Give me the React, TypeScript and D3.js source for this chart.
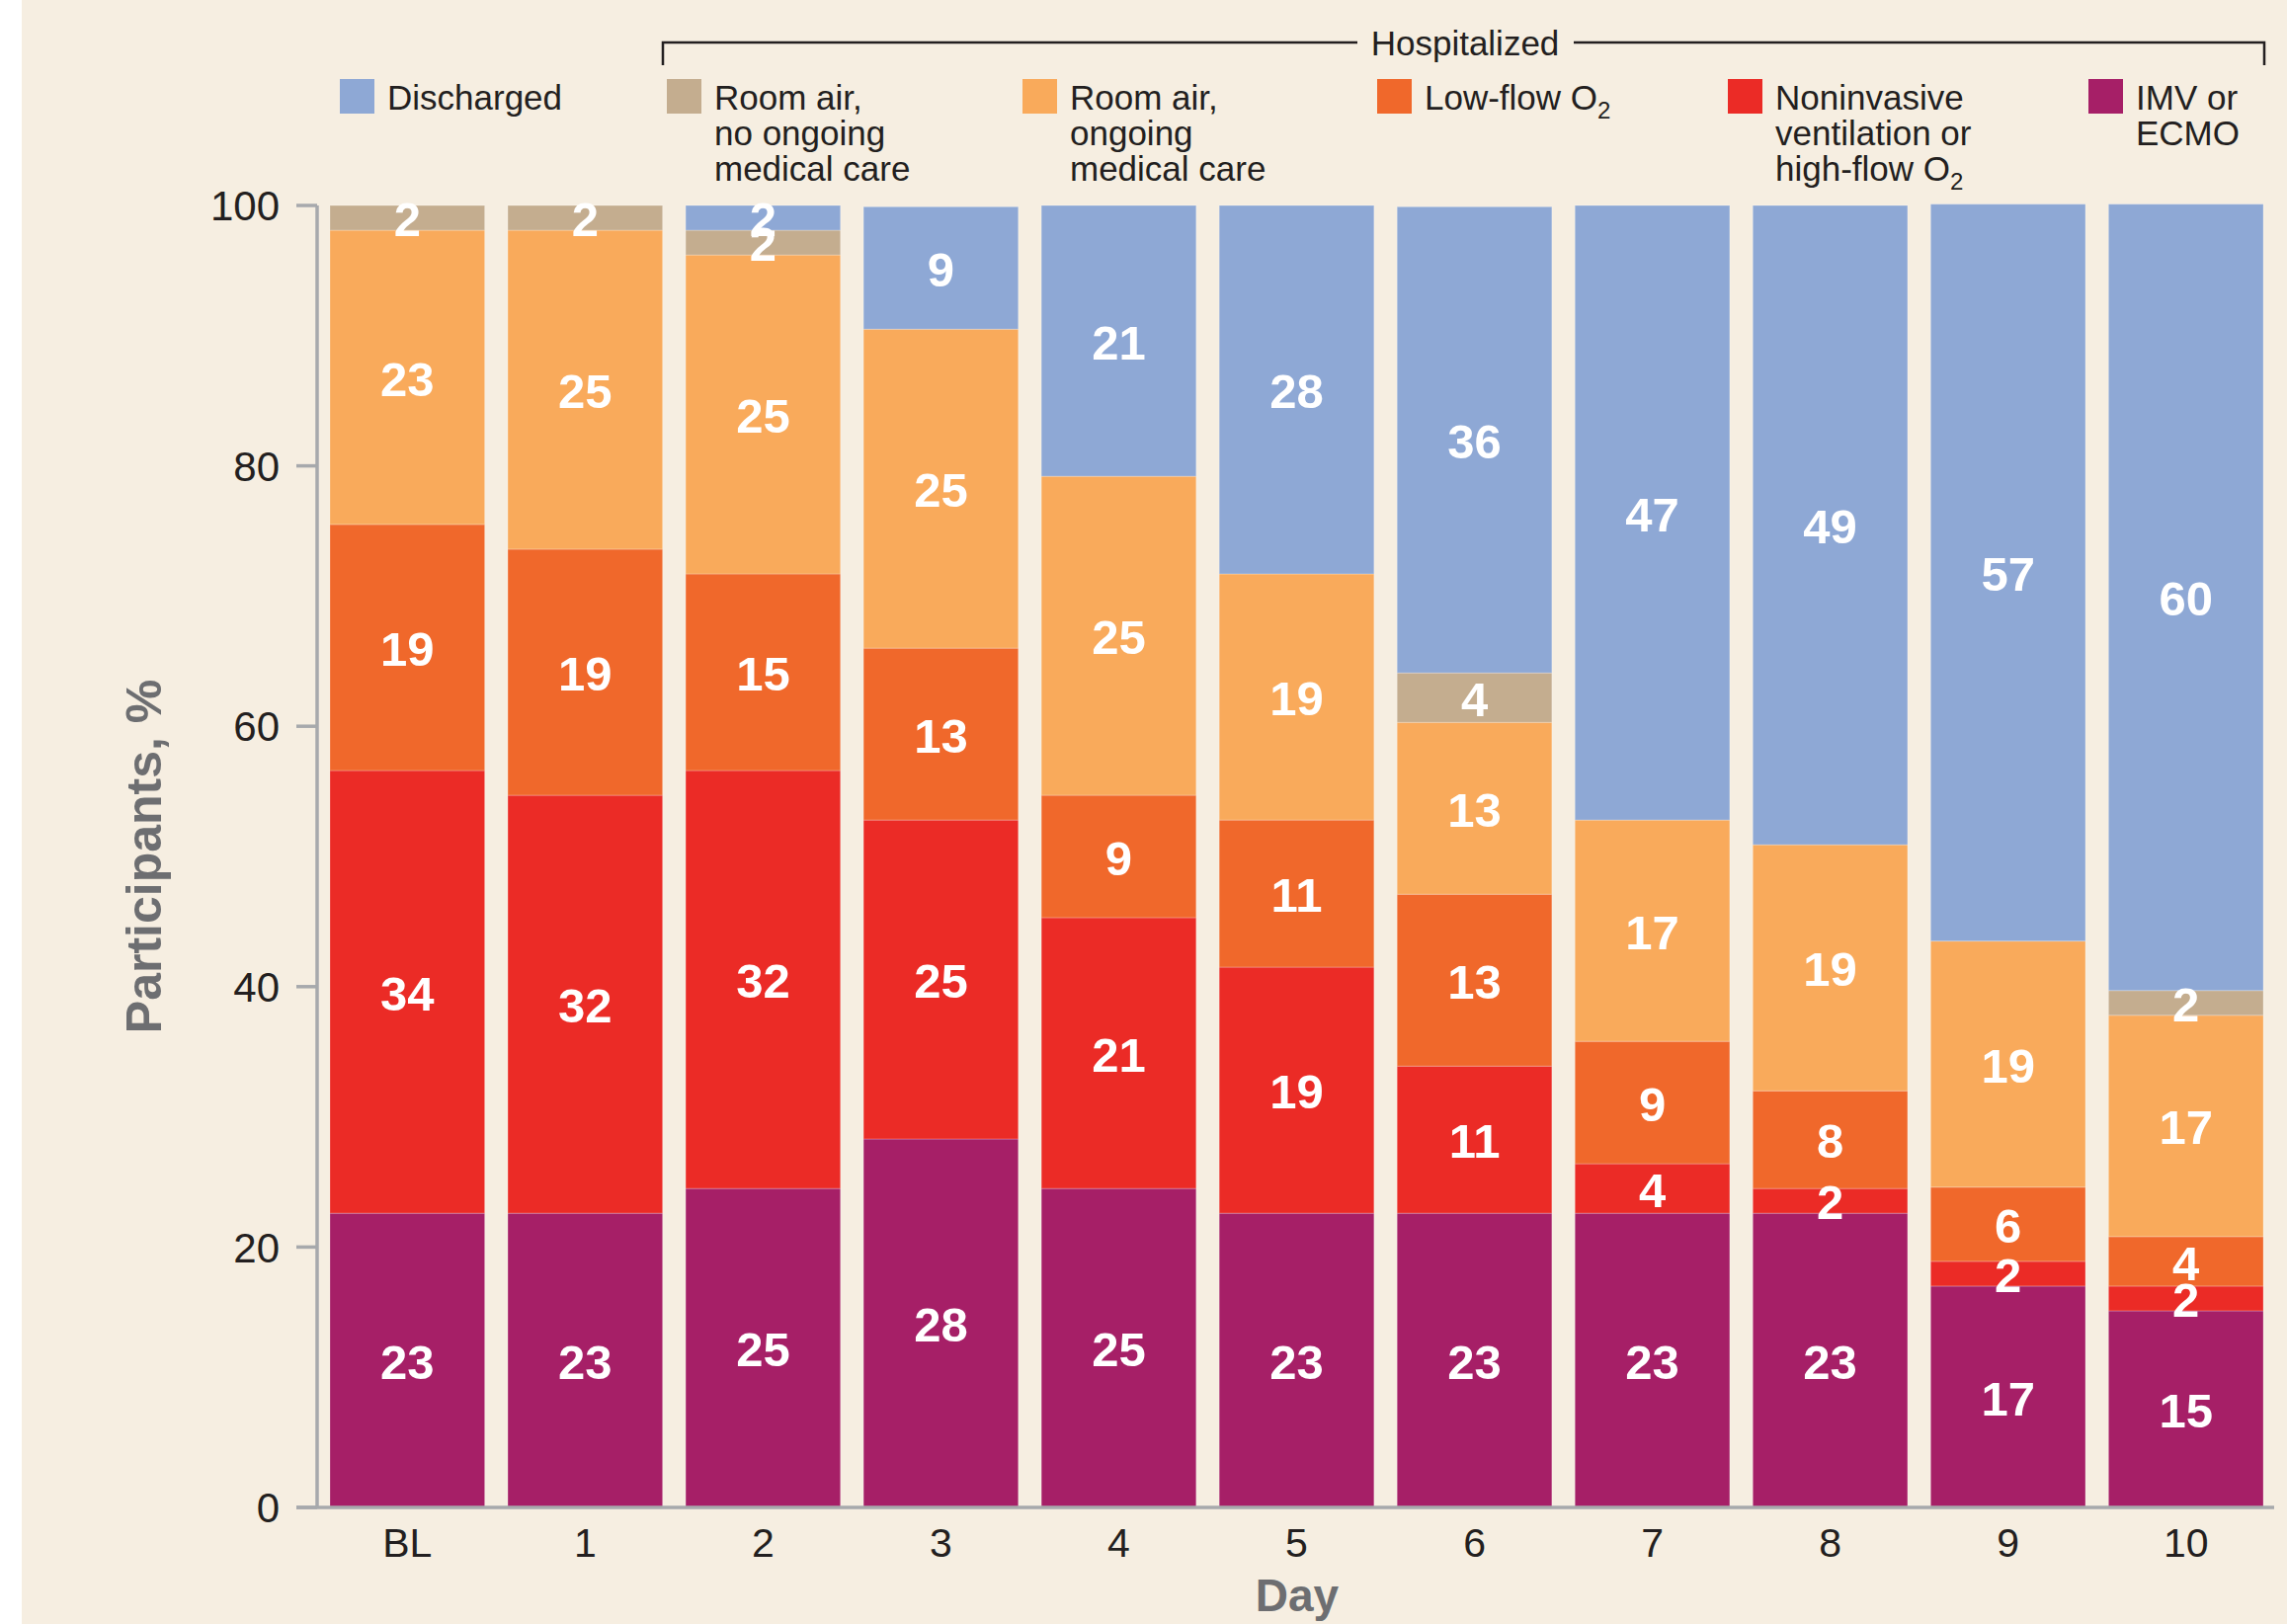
import React from "react";
import * as d3 from "d3";

// day-by-day clinical status, % of participants (bottom of stack first)
const days = ["BL", "1", "2", "3", "4", "5", "6", "7", "8", "9", "10"];
const imv = [22.6, 22.6, 24.5, 28.3, 24.5, 22.6, 22.6, 22.6, 22.6, 17.0, 15.1];
const niv = [34.0, 32.1, 32.1, 24.5, 20.8, 18.9, 11.3, 3.8, 1.9, 1.9, 1.9];
const lowFlow = [18.9, 18.9, 15.1, 13.2, 9.4, 11.3, 13.2, 9.4, 7.5, 5.7, 3.8];
const roomOngoing = [22.6, 24.5, 24.5, 24.5, 24.5, 18.9, 13.2, 17.0, 18.9, 18.9, 17.0];
const roomNoOngoing = [1.9, 1.9, 1.9, 0, 0, 0, 3.8, 0, 0, 0, 1.9];
const discharged = [0, 0, 1.9, 9.4, 20.8, 28.3, 35.8, 47.2, 49.1, 56.6, 60.4];

const yTicks = [0, 20, 40, 60, 80, 100];

const seriesKeys = ["imv", "niv", "lowFlow", "roomOngoing", "roomNoOngoing", "discharged"];
const seriesValues: Record<string, number[]> = { imv, niv, lowFlow, roomOngoing, roomNoOngoing, discharged };
const colors: Record<string, string> = {
  discharged: "#8ea8d5",
  roomNoOngoing: "#c4ad8f",
  roomOngoing: "#f9aa5b",
  lowFlow: "#f0682b",
  niv: "#eb2b26",
  imv: "#a61f67",
};

// legend text, "_" marks a subscript
const legend = [
  { key: "discharged", x: 344, lines: ["Discharged"] },
  { key: "roomNoOngoing", x: 675, lines: ["Room air,", "no ongoing", "medical care"] },
  { key: "roomOngoing", x: 1035, lines: ["Room air,", "ongoing", "medical care"] },
  { key: "lowFlow", x: 1394, lines: ["Low-flow O_2"] },
  { key: "niv", x: 1749, lines: ["Noninvasive", "ventilation or", "high-flow O_2"] },
  { key: "imv", x: 2114, lines: ["IMV or", "ECMO"] },
];

const W = 2315;
const H = 1644;
const font = "'Liberation Sans', Arial, Helvetica, sans-serif";
const ink = "#231f20";
const axisGray = "#a7a9ac";
const labelGray = "#6d6e71";

function LineText({ s }: { s: string }) {
  const parts = s.split("_");
  if (parts.length === 1) return <>{s}</>;
  return (
    <>
      {parts[0]}
      <tspan fontSize={24} dy={9}>{parts[1]}</tspan>
      <tspan dy={-9}></tspan>
    </>
  );
}

export default function App() {
  const x = d3.scaleBand<string>().domain(days).range([334, 2291]).paddingInner(0.13).paddingOuter(0);
  const y = d3.scaleLinear().domain([0, 100]).range([1526, 208]);

  const table = days.map((d, i) => {
    const row: any = { day: d };
    seriesKeys.forEach((k) => (row[k] = seriesValues[k][i]));
    return row;
  });
  const stacked = d3.stack<any>().keys(seriesKeys)(table);

  return (
    <svg width={W} height={H} style={{ position: "absolute", left: 0, top: 0 }} fontFamily={font}>
      <rect x={0} y={0} width={W} height={H} fill="#f6eee1" />
      <rect x={0} y={0} width={22} height={H} fill="#ffffff" />

      {/* bracket over hospitalized states */}
      <path d="M671,66 V43 H1374 M1593,43 H2292 V66" fill="none" stroke={ink} strokeWidth={2.5} />
      <text x={1483} y={56} fontSize={35} fill={ink} textAnchor="middle">Hospitalized</text>

      {/* legend */}
      {legend.map((l) => (
        <g key={l.key}>
          <rect x={l.x} y={80} width={35} height={35} fill={colors[l.key]} />
          {l.lines.map((s, j) => (
            <text key={j} x={l.x + 48} y={111 + j * 36} fontSize={35} fill={ink}>
              <LineText s={s} />
            </text>
          ))}
        </g>
      ))}

      {/* bars */}
      {stacked.map((layer) => (
        <g key={layer.key} fill={colors[layer.key]}>
          {layer.map((seg, i) => {
            const h = y(seg[0]) - y(seg[1]);
            if (h <= 0) return null;
            return (
              <rect
                key={i}
                x={x(days[i])}
                y={y(seg[1])}
                width={x.bandwidth()}
                height={h}
                stroke="#ffffff"
                strokeOpacity={0.25}
                strokeWidth={1}
              />
            );
          })}
        </g>
      ))}

      {/* segment labels */}
      {stacked.map((layer) =>
        layer.map((seg, i) => {
          const v = seriesValues[layer.key][i];
          if (v <= 0) return null;
          return (
            <text
              key={layer.key + i}
              x={(x(days[i]) as number) + x.bandwidth() / 2}
              y={y((seg[0] + seg[1]) / 2)}
              dy="0.38em"
              fontSize={49}
              fontWeight="bold"
              fill="#ffffff"
              textAnchor="middle"
            >
              {Math.round(v)}
            </text>
          );
        })
      )}

      {/* y axis */}
      <line x1={321} x2={321} y1={y(100)} y2={y(0)} stroke={axisGray} strokeWidth={3.5} />
      {yTicks.map((t) => (
        <g key={t}>
          <line x1={300} x2={321} y1={y(t)} y2={y(t)} stroke={axisGray} strokeWidth={3.5} />
          <text x={283} y={y(t)} dy="0.36em" fontSize={42} fill={ink} textAnchor="end">{t}</text>
        </g>
      ))}

      {/* x axis */}
      <line x1={300} x2={2302} y1={y(0)} y2={y(0)} stroke={axisGray} strokeWidth={3.5} />
      {days.map((d) => (
        <text key={d} x={(x(d) as number) + x.bandwidth() / 2} y={1576} fontSize={41} fill={ink} textAnchor="middle">
          {d}
        </text>
      ))}

      <text x={1313} y={1631} fontSize={46} fontWeight="bold" fill={labelGray} textAnchor="middle">Day</text>
      <text
        transform={`translate(163, ${(y(0) + y(100)) / 2}) rotate(-90)`}
        fontSize={50}
        fontWeight="bold"
        fill={labelGray}
        textAnchor="middle"
      >
        Participants, %
      </text>
    </svg>
  );
}
